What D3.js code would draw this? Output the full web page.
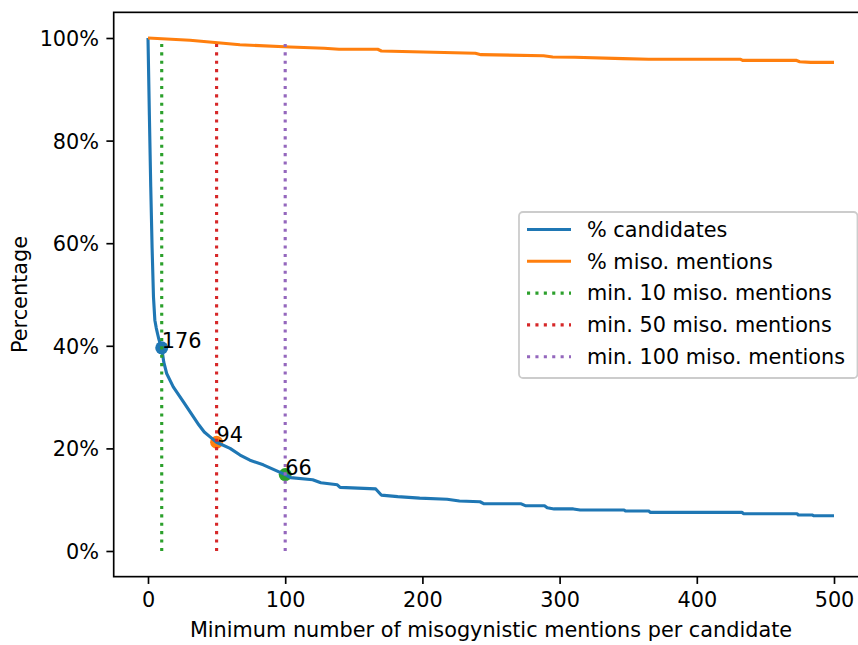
<!DOCTYPE html>
<html>
<head>
<meta charset="utf-8">
<script src="https://cdn.jsdelivr.net/npm/d3@7"></script>
<style>
    body { margin: 0; background: #fff; }
    #chart { width: 858px; height: 645px; }
    text { font-family: "DejaVu Sans", sans-serif; fill: #000; }
</style>
</head>
<body>
<div id="chart"></div>
<script>
// % candidates with at least x misogynistic mentions
const candX = [0, 1, 2, 3, 4, 5, 6, 7, 8, 9, 10, 11.5, 13.6, 18.4, 25.7, 33, 37, 41, 45, 50, 59.8, 67.1, 74.3, 84, 100,
    104, 120, 126, 138, 140, 166, 170, 182, 198, 218, 227, 242, 245, 272, 275, 289, 291, 296, 310, 315,
    347, 348, 365, 366, 433, 434, 473, 474, 484, 485, 500];
const candPct = [100, 85, 71, 59, 49.5, 45, 43.5, 42.3, 41.2, 40.3, 39.6, 36.8, 34.6, 32.0, 29.1, 26.2, 24.6, 23.2, 22.3, 21.2, 20.0, 18.7, 17.7, 16.8, 14.9,
    14.3, 13.9, 13.3, 12.9, 12.4, 12.1, 10.9, 10.6, 10.3, 10.1, 9.75, 9.6, 9.2, 9.2, 8.83, 8.83, 8.44, 8.2, 8.2, 7.99,
    7.99, 7.8, 7.8, 7.54, 7.54, 7.27, 7.27, 7.02, 7.02, 6.88, 6.88];

// % misogynistic mentions covered
const misoX = [0, 30.6, 67, 103.5, 128.4, 139.2, 167.4, 170.1, 238.6, 242.7, 288.3, 295, 311.1, 346.1, 364.9,
    432, 433.4, 472.3, 475, 483.1, 500];
const misoPct = [100, 99.55, 98.69, 98.25, 97.99, 97.8, 97.8, 97.47, 97.02, 96.75, 96.55, 96.3, 96.24, 95.97, 95.85,
    95.85, 95.65, 95.65, 95.38, 95.26, 95.26];

// thresholds, marked points and their candidate counts
const thresholds = [10, 50, 100];
const markPct = [39.6, 21.2, 14.9];
const markLabels = ["176", "94", "66"];
const vlineTop = 99;

const legendLabels = ["% candidates", "% miso. mentions", "min. 10 miso. mentions", "min. 50 miso. mentions", "min. 100 miso. mentions"];
const xTicks = [0, 100, 200, 300, 400, 500];
const yTicks = [0, 20, 40, 60, 80, 100];

/*
SETTING UP THE SVG CANVAS
*/
const width = 858;
const height = 645;
const fs = 20.8;
const C = ["#1f77b4", "#ff7f0e", "#2ca02c", "#d62728", "#9467bd"];
const plot = { left: 113.7, right: 868.3, top: 12.35, bottom: 576.65 };

const svg = d3.select("#chart")
    .append("svg")
    .attr("width", width)
    .attr("height", height);

/*
DEFINE SCALES
*/
const xScale = d3.scaleLinear()
    .domain([-25, 525])
    .range([plot.left, plot.right]);

const yScale = d3.scaleLinear()
    .domain([-5, 105])
    .range([plot.bottom, plot.top]);

const line = d3.line()
    .x(d => xScale(d[0]))
    .y(d => yScale(d[1]));

/*
DRAW THE MARKS
*/
thresholds.forEach(function (t, i) {
    svg.append("circle")
        .attr("cx", xScale(t))
        .attr("cy", yScale(markPct[i]))
        .attr("r", 6.5)
        .attr("fill", C[i]);
});

svg.append("path")
    .datum(d3.zip(candX, candPct))
    .attr("d", line)
    .attr("fill", "none")
    .attr("stroke", C[0])
    .attr("stroke-width", 3.125)
    .attr("stroke-linejoin", "round");

svg.append("path")
    .datum(d3.zip(misoX, misoPct))
    .attr("d", line)
    .attr("fill", "none")
    .attr("stroke", C[1])
    .attr("stroke-width", 3.125)
    .attr("stroke-linejoin", "round");

thresholds.forEach(function (t, i) {
    svg.append("path")
        .datum([[t, 0], [t, vlineTop]])
        .attr("d", line)
        .attr("stroke", C[i + 2])
        .attr("stroke-width", 3.125)
        .attr("stroke-dasharray", "3.1,5.3");

    svg.append("text")
        .attr("x", xScale(t))
        .attr("y", yScale(markPct[i]))
        .attr("font-size", fs)
        .text(markLabels[i]);
});

/*
GENERATE AXES
*/
const xAxis = svg.append("g")
    .attr("transform", `translate(0,${plot.bottom})`)
    .call(d3.axisBottom(xScale).tickValues(xTicks).tickSize(7.3).tickPadding(8.6).tickSizeOuter(0));

const yAxis = svg.append("g")
    .attr("transform", `translate(${plot.left},0)`)
    .call(d3.axisLeft(yScale).tickValues(yTicks).tickSize(7.3).tickPadding(7.3).tickSizeOuter(0)
        .tickFormat(d => d + "%"));

[xAxis, yAxis].forEach(function (ax) {
    ax.select(".domain").remove();
    ax.selectAll("line").attr("stroke", "#000").attr("stroke-width", 1.67);
    ax.selectAll("text").attr("font-size", fs).attr("font-family", "DejaVu Sans").attr("fill", "#000");
});
yAxis.selectAll("text").attr("dy", "0.36em");

svg.append("rect")
    .attr("x", plot.left)
    .attr("y", plot.top)
    .attr("width", plot.right - plot.left)
    .attr("height", plot.bottom - plot.top)
    .attr("fill", "none")
    .attr("stroke", "#000")
    .attr("stroke-width", 1.67);

/*
ADDING AXIS LABELS
*/
svg.append("text")
    .attr("x", (plot.left + plot.right) / 2)
    .attr("y", 637)
    .attr("text-anchor", "middle")
    .attr("font-size", fs)
    .text("Minimum number of misogynistic mentions per candidate");

svg.append("text")
    .attr("transform", `translate(27,${(plot.top + plot.bottom) / 2}) rotate(-90)`)
    .attr("text-anchor", "middle")
    .attr("font-size", fs)
    .text("Percentage");

/*
LEGEND
*/
const legend = svg.append("g");

legend.append("rect")
    .attr("x", 519)
    .attr("y", 212)
    .attr("width", 338.5)
    .attr("height", 166)
    .attr("rx", 4)
    .attr("fill", "#fff")
    .attr("fill-opacity", 0.8)
    .attr("stroke", "#cccccc")
    .attr("stroke-width", 1.8);

legendLabels.forEach(function (lab, i) {
    const ly = 229.5 + i * 31.8;
    const h = legend.append("line")
        .attr("x1", 527)
        .attr("x2", 571)
        .attr("y1", ly)
        .attr("y2", ly)
        .attr("stroke", C[i])
        .attr("stroke-width", 3.125);
    if (i > 1) h.attr("stroke-dasharray", "3.1,5.3");

    legend.append("text")
        .attr("x", 587)
        .attr("y", ly + 7.2)
        .attr("font-size", fs)
        .text(lab);
});
</script>
</body>
</html>
